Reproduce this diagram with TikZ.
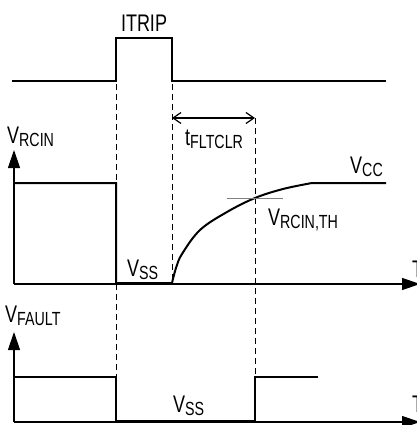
\documentclass[tikz,border=0pt]{standalone}
\usepackage{fontspec}
\setmainfont{Liberation Sans}[FakeStretch=0.75]
\usetikzlibrary{arrows.meta}
\newcommand\lab[2]{#1\raisebox{-3pt}{\fontsize{19}{21}\selectfont #2}}
\begin{document}
\begin{tikzpicture}[x=1pt,y=-1pt,
  sig/.style={line width=2pt,line join=miter},
  axis/.style={line width=1.2pt,-{Triangle[length=18pt,width=12pt]}},
  guide/.style={line width=1pt,dash pattern=on 6pt off 4pt},
  lbl/.style={inner sep=0pt,anchor=base west,font=\fontsize{24}{27}\selectfont}]
\useasboundingbox (0,0) rectangle (416,425);
% top ITRIP signal
\draw[sig] (12,81) -- (116,81) -- (116,38) -- (172,38) -- (172,81) -- (386,81);
\node[lbl,anchor=base] (itrip) at (144,32) {ITRIP};
% dashed guides
\draw[guide] (116,84) -- (116,377);
\draw[guide] (172,84) -- (172,283);
\draw[guide] (255,118) -- (255,377);
% tFLTCLR arrow
\coordinate (fa) at (172,118);
\coordinate (fb) at (255,118);
\draw[line width=1.2pt,{Straight Barb[length=8pt,width=11pt]}-{Straight Barb[length=8pt,width=11pt]}] (fa) -- (fb);
\node[lbl] (tf) at (185,145) {\lab{t}{FLTCLR}};
% middle axes
\coordinate (o1) at (14,284);
\draw[axis] (o1) -- (14,150);
\draw[axis] (o1) -- (420,284);
\node[lbl] (vrcin) at (7,143) {\lab{V}{RCIN}};
\node[lbl] (t1) at (412,277) {T};
% middle signal
\draw[sig] (14,183) -- (116,183) -- (116,283) -- (172,283)
  plot[smooth,tension=0.6] coordinates {(172,283) (176,268) (182,254) (200,230) (227,212) (255,198) (283,189) (312,183)}
  -- (386,183);
\draw[gray,line width=1pt] (227,198) -- (283,198);
\node[lbl] (vcc) at (350,173) {\lab{V}{CC}};
\node[lbl] (vth) at (268,225) {\lab{V}{RCIN,TH}};
\node[lbl] (vss1) at (127,276) {\lab{V}{SS}};
% bottom axes
\coordinate (o2) at (14,422);
\draw[axis] (o2) -- (14,332);
\draw[axis] (o2) -- (420,422);
\node[lbl] (vfault) at (5,322) {\lab{V}{FAULT}};
\node[lbl] (t2) at (412,412) {T};
% bottom signal
\draw[sig] (14,377) -- (116,377) -- (116,421) -- (255,421) -- (255,377) -- (318,377);
\node[lbl] (vss2) at (173,412) {\lab{V}{SS}};
\end{tikzpicture}
\end{document}
